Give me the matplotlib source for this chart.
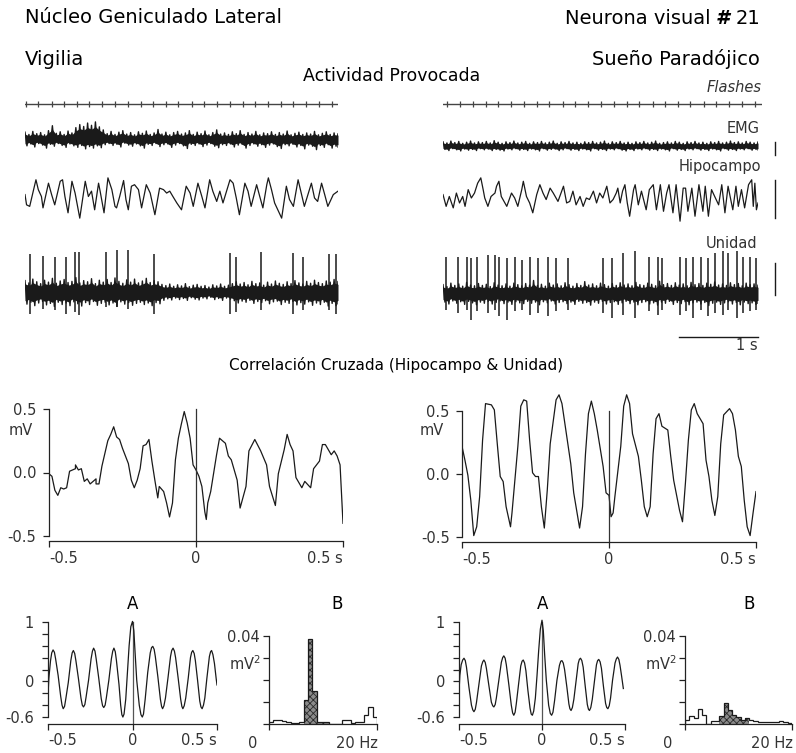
import numpy as np
import matplotlib
matplotlib.use("Agg")
import matplotlib.pyplot as plt

plt.rcParams['font.family'] = ['DejaVu Sans']
plt.rcParams['mathtext.fontset'] = 'dejavusans'
plt.rcParams['hatch.color'] = '#2a2a2a'
plt.rcParams['hatch.linewidth'] = 0.6

W, H = 796, 753

# ---------------- DATA ----------------
# flash times (s)
flash_left = [0.01, 0.17, 0.34, 0.50, 0.66, 0.82, 0.99, 1.15, 1.31, 1.48, 1.64, 1.80,
              1.96, 2.13, 2.29, 2.45, 2.62, 2.78, 2.94, 3.10, 3.27, 3.43, 3.59, 3.76, 3.92]
flash_right = [0.05, 0.21, 0.38, 0.54, 0.70, 0.86, 1.03, 1.19, 1.35, 1.52, 1.68, 1.84,
               2.00, 2.17, 2.33, 2.49, 2.66, 2.82, 2.98, 3.14, 3.31, 3.47, 3.63, 3.80, 3.96]

# noisy traces: positive / negative excursions every 50 ms (mV)
noise_t = np.linspace(0, 4, 81)
emg_w_up = [0.18, 0.12, 0.20, 0.14, 0.17, 0.11, 0.22, 0.35, 0.15, 0.19,
            0.12, 0.21, 0.16, 0.30, 0.38, 0.33, 0.42, 0.36, 0.45, 0.32,
            0.24, 0.14, 0.20, 0.12, 0.18, 0.22, 0.13, 0.17, 0.11, 0.19,
            0.15, 0.21, 0.12, 0.16, 0.25, 0.13, 0.18, 0.11, 0.17, 0.20,
            0.13, 0.16, 0.22, 0.12, 0.18, 0.14, 0.21, 0.11, 0.17, 0.24,
            0.13, 0.16, 0.12, 0.19, 0.14, 0.22, 0.12, 0.17, 0.13, 0.20,
            0.11, 0.16, 0.14, 0.19, 0.12, 0.17, 0.13, 0.21, 0.11, 0.15,
            0.18, 0.12, 0.16, 0.13, 0.20, 0.11, 0.15, 0.19, 0.12, 0.16,
            0.14]
emg_w_lo = [-0.18, -0.13, -0.21, -0.12, -0.16, -0.24, -0.14, -0.19, -0.12, -0.17,
            -0.22, -0.13, -0.18, -0.22, -0.17, -0.26, -0.20, -0.24, -0.18, -0.23,
            -0.15, -0.12, -0.17, -0.14, -0.21, -0.11, -0.16, -0.19, -0.13, -0.18,
            -0.24, -0.14, -0.17, -0.12, -0.20, -0.15, -0.13, -0.22, -0.16, -0.12,
            -0.18, -0.25, -0.14, -0.17, -0.13, -0.20, -0.16, -0.12, -0.19, -0.23,
            -0.15, -0.17, -0.13, -0.21, -0.16, -0.14, -0.24, -0.17, -0.13, -0.19,
            -0.15, -0.22, -0.16, -0.13, -0.20, -0.25, -0.15, -0.18, -0.14, -0.21,
            -0.17, -0.26, -0.16, -0.19, -0.28, -0.17, -0.22, -0.15, -0.24, -0.19,
            -0.21]
emg_s_up = [0.11, 0.08, 0.13, 0.09, 0.12, 0.07, 0.10, 0.13, 0.08, 0.11,
            0.09, 0.12, 0.08, 0.14, 0.10, 0.07, 0.11, 0.09, 0.13, 0.08,
            0.10, 0.12, 0.07, 0.11, 0.09, 0.12, 0.08, 0.10, 0.13, 0.07,
            0.11, 0.09, 0.12, 0.08, 0.10, 0.07, 0.11, 0.09, 0.12, 0.08,
            0.10, 0.13, 0.07, 0.11, 0.09, 0.12, 0.08, 0.10, 0.07, 0.11,
            0.09, 0.12, 0.08, 0.10, 0.13, 0.07, 0.09, 0.11, 0.08, 0.12,
            0.10, 0.07, 0.11, 0.09, 0.12, 0.08, 0.10, 0.07, 0.11, 0.09,
            0.12, 0.08, 0.10, 0.13, 0.09, 0.11, 0.08, 0.12, 0.10, 0.08,
            0.11]
emg_s_lo = [-0.09, -0.12, -0.07, -0.10, -0.13, -0.08, -0.11, -0.09, -0.12, -0.07,
            -0.10, -0.08, -0.12, -0.09, -0.11, -0.13, -0.08, -0.10, -0.07, -0.11,
            -0.09, -0.12, -0.08, -0.10, -0.13, -0.07, -0.11, -0.09, -0.08, -0.12,
            -0.10, -0.07, -0.11, -0.09, -0.12, -0.08, -0.10, -0.13, -0.07, -0.11,
            -0.09, -0.12, -0.08, -0.10, -0.07, -0.11, -0.13, -0.09, -0.12, -0.08,
            -0.10, -0.07, -0.11, -0.09, -0.12, -0.08, -0.10, -0.13, -0.07, -0.11,
            -0.09, -0.12, -0.08, -0.10, -0.07, -0.11, -0.09, -0.12, -0.08, -0.10,
            -0.13, -0.07, -0.11, -0.09, -0.12, -0.08, -0.10, -0.07, -0.11, -0.09,
            -0.10]
unit_w_up = [0.30, 0.24, 0.34, 0.27, 0.22, 0.31, 0.26, 0.36, 0.23, 0.29,
             0.33, 0.25, 0.28, 0.38, 0.24, 0.30, 0.27, 0.35, 0.22, 0.31,
             0.26, 0.33, 0.25, 0.37, 0.28, 0.23, 0.32, 0.26, 0.34, 0.24,
             0.29, 0.36, 0.25, 0.30, 0.27, 0.20, 0.17, 0.21, 0.15, 0.19,
             0.16, 0.22, 0.14, 0.18, 0.20, 0.15, 0.17, 0.13, 0.19, 0.16,
             0.21, 0.15, 0.18, 0.22, 0.27, 0.21, 0.25, 0.19, 0.28, 0.22,
             0.24, 0.18, 0.26, 0.21, 0.29, 0.23, 0.20, 0.27, 0.22, 0.30,
             0.24, 0.21, 0.28, 0.23, 0.31, 0.25, 0.22, 0.29, 0.26, 0.33,
             0.28]
unit_w_lo = [-0.32, -0.27, -0.36, -0.29, -0.25, -0.34, -0.30, -0.38, -0.27, -0.33,
             -0.29, -0.36, -0.26, -0.31, -0.37, -0.28, -0.33, -0.25, -0.35, -0.30,
             -0.27, -0.34, -0.29, -0.38, -0.26, -0.32, -0.28, -0.35, -0.30, -0.27,
             -0.33, -0.29, -0.36, -0.28, -0.31, -0.22, -0.18, -0.21, -0.16, -0.20,
             -0.17, -0.22, -0.15, -0.19, -0.21, -0.16, -0.18, -0.14, -0.20, -0.17,
             -0.22, -0.16, -0.19, -0.23, -0.29, -0.24, -0.27, -0.22, -0.30, -0.25,
             -0.28, -0.23, -0.31, -0.26, -0.24, -0.33, -0.27, -0.30, -0.25, -0.34,
             -0.28, -0.32, -0.26, -0.35, -0.29, -0.33, -0.27, -0.37, -0.30, -0.36,
             -0.31]
unit_s_up = [0.22, 0.17, 0.26, 0.20, 0.24, 0.18, 0.28, 0.21, 0.19, 0.25,
             0.20, 0.23, 0.17, 0.27, 0.21, 0.19, 0.24, 0.18, 0.26, 0.22,
             0.19, 0.25, 0.21, 0.33, 0.20, 0.23, 0.18, 0.26, 0.21, 0.24,
             0.19, 0.27, 0.22, 0.18, 0.25, 0.20, 0.30, 0.21, 0.24, 0.19,
             0.26, 0.22, 0.18, 0.25, 0.20, 0.27, 0.21, 0.24, 0.19, 0.28,
             0.22, 0.20, 0.26, 0.23, 0.19, 0.31, 0.22, 0.25, 0.20, 0.27,
             0.21, 0.24, 0.19, 0.28, 0.22, 0.25, 0.20, 0.26, 0.23, 0.29,
             0.21, 0.24, 0.20, 0.27, 0.22, 0.25, 0.19, 0.26, 0.22, 0.24,
             0.21]
unit_s_lo = [-0.24, -0.29, -0.21, -0.27, -0.23, -0.30, -0.22, -0.26, -0.31, -0.24,
             -0.27, -0.22, -0.29, -0.25, -0.21, -0.28, -0.24, -0.30, -0.23, -0.26,
             -0.28, -0.22, -0.27, -0.24, -0.31, -0.23, -0.26, -0.21, -0.29, -0.25,
             -0.23, -0.28, -0.24, -0.30, -0.22, -0.27, -0.25, -0.32, -0.24, -0.27,
             -0.22, -0.29, -0.25, -0.23, -0.30, -0.26, -0.22, -0.28, -0.24, -0.31,
             -0.25, -0.23, -0.29, -0.26, -0.32, -0.24, -0.27, -0.22, -0.30, -0.25,
             -0.28, -0.23, -0.31, -0.26, -0.24, -0.29, -0.25, -0.33, -0.27, -0.24,
             -0.30, -0.26, -0.23, -0.29, -0.25, -0.31, -0.24, -0.28, -0.26, -0.30,
             -0.27]

# Hippocampus traces (t s, mV)
hip_w_t = [0.00, 0.02, 0.06, 0.11, 0.14, 0.17, 0.21, 0.23, 0.30, 0.34, 0.38, 0.45, 0.48, 0.51,
           0.55, 0.60, 0.64, 0.70, 0.77, 0.81, 0.85, 0.89, 0.94, 0.96, 1.01, 1.06, 1.11, 1.15,
           1.17, 1.21, 1.26, 1.29, 1.32, 1.36, 1.40, 1.45, 1.49, 1.55, 1.60, 1.66, 1.72, 1.77,
           1.81, 1.85, 1.89, 1.94, 2.00, 2.06, 2.11, 2.15, 2.21, 2.26, 2.30, 2.36, 2.40, 2.45,
           2.49, 2.53, 2.62, 2.66, 2.70, 2.74, 2.81, 2.85, 2.89, 2.96, 3.00, 3.04, 3.09, 3.11,
           3.15, 3.19, 3.28, 3.34, 3.38, 3.43, 3.49, 3.53, 3.57, 3.66, 3.70, 3.74, 3.79, 3.83,
           3.87, 3.94, 4.00]
hip_w_v = [0.09, -0.18, -0.22, 0.22, 0.48, 0.22, 0.04, -0.26, 0.39, 0.09, -0.18, 0.44, 0.48, 0.04,
           -0.39, 0.44, 0.13, -0.53, 0.44, 0.04, 0.18, -0.31, 0.39, 0.18, -0.39, 0.53, 0.22, -0.22,
           -0.26, 0.04, 0.46, -0.04, -0.31, 0.31, 0.35, 0.22, -0.26, 0.35, 0.13, -0.44, 0.26, 0.22,
           0.13, 0.18, 0.04, -0.13, -0.31, 0.31, 0.13, -0.22, 0.39, 0.04, -0.26, 0.48, 0.18, -0.09,
           0.18, -0.13, 0.48, 0.39, 0.00, -0.44, 0.39, 0.18, -0.22, 0.35, 0.04, -0.26, 0.35, 0.53,
           0.22, -0.13, -0.53, 0.31, -0.04, -0.22, 0.48, 0.13, -0.22, 0.39, 0.00, -0.09, 0.39, 0.09,
           -0.22, 0.09, 0.18]
hip_s_t = [0.00, 0.04, 0.08, 0.13, 0.17, 0.21, 0.25, 0.28, 0.32, 0.36, 0.40, 0.44, 0.48, 0.51,
           0.53, 0.57, 0.61, 0.66, 0.68, 0.71, 0.74, 0.81, 0.87, 0.91, 0.95, 1.00, 1.02, 1.06,
           1.10, 1.14, 1.19, 1.23, 1.27, 1.31, 1.36, 1.40, 1.46, 1.53, 1.57, 1.61, 1.65, 1.69,
           1.74, 1.78, 1.82, 1.86, 1.91, 1.95, 1.99, 2.03, 2.08, 2.12, 2.16, 2.20, 2.22, 2.25,
           2.28, 2.31, 2.34, 2.37, 2.42, 2.44, 2.48, 2.52, 2.58, 2.62, 2.67, 2.71, 2.76, 2.80,
           2.84, 2.87, 2.92, 2.96, 3.01, 3.05, 3.08, 3.11, 3.16, 3.20, 3.25, 3.30, 3.33, 3.37,
           3.41, 3.45, 3.50, 3.54, 3.58, 3.62, 3.68, 3.72, 3.75, 3.79, 3.83, 3.88, 3.92, 3.94,
           3.96, 3.98, 4.00]
hip_s_v = [0.09, -0.22, 0.04, -0.26, 0.13, -0.13, 0.04, -0.22, 0.22, 0.00, 0.13, 0.39, 0.53, 0.22,
           0.00, -0.22, 0.04, 0.13, 0.31, 0.44, 0.04, -0.22, 0.13, 0.00, -0.22, 0.22, 0.44, 0.04,
           -0.13, -0.39, 0.09, 0.35, 0.13, -0.04, 0.26, 0.13, -0.09, 0.31, -0.13, -0.09, 0.18, -0.18,
           0.04, -0.22, 0.00, -0.04, 0.18, -0.13, 0.13, 0.00, 0.31, -0.13, -0.04, 0.13, 0.26, -0.13,
           0.18, 0.35, -0.13, -0.48, 0.22, 0.35, -0.18, 0.18, -0.31, 0.22, 0.35, -0.31, 0.35, -0.35,
           0.13, 0.35, -0.39, 0.35, -0.61, 0.26, 0.26, -0.35, 0.26, -0.48, 0.35, -0.35, 0.31, -0.48,
           0.22, 0.04, -0.18, 0.35, -0.39, 0.31, -0.31, 0.31, -0.22, 0.22, -0.26, 0.35, 0.48, -0.22,
           0.39, -0.31, -0.13]

# Unit spikes (t s, peak mV, trough mV)
spk_w_t = [0.06, 0.23, 0.38, 0.53, 0.64, 0.69, 1.04, 1.17, 1.31, 1.65, 2.62, 2.70, 3.02, 3.43,
           3.55, 3.88, 3.98]
spk_w_top = [1.01, 0.96, 0.92, 0.92, 1.05, 1.05, 1.05, 1.11, 1.10, 0.99, 1.03, 0.92, 1.05, 1.03,
             0.92, 0.99, 1.01]
spk_w_bot = [-0.57, -0.44, -0.48, -0.57, -0.53, -0.61, -0.39, -0.39, -0.44, -0.57, -0.59, -0.53,
             -0.48, -0.57, -0.48, -0.48, -0.57]
spk_s_t = [0.04, 0.19, 0.30, 0.36, 0.43, 0.57, 0.66, 0.71, 0.81, 0.91, 1.00, 1.11, 1.21, 1.33,
           1.44, 1.59, 2.03, 2.14, 2.29, 2.44, 2.61, 2.73, 2.78, 3.01, 3.09, 3.18, 3.28, 3.37,
           3.45, 3.55, 3.62, 3.73, 3.81, 3.90, 3.97]
spk_s_top = [0.96, 0.96, 0.96, 0.92, 0.96, 1.01, 1.01, 0.96, 0.92, 0.96, 0.88, 0.96, 0.92, 0.96,
             0.92, 0.92, 0.92, 0.92, 1.05, 1.10, 0.96, 0.96, 0.92, 0.96, 0.92, 0.96, 0.96, 0.92,
             1.05, 1.10, 1.05, 1.10, 0.96, 0.96, 0.92]
spk_s_bot = [-0.44, -0.53, -0.44, -0.70, -0.48, -0.53, -0.44, -0.61, -0.70, -0.48, -0.44, -0.57,
             -0.53, -0.61, -0.48, -0.44, -0.53, -0.66, -0.57, -0.66, -0.48, -0.57, -0.44, -0.57,
             -0.48, -0.66, -0.44, -0.61, -0.53, -0.57, -0.44, -0.66, -0.53, -0.48, -0.44]

# Cross-correlation (lag s, mV)
cc_w_t = [-0.50, -0.49, -0.48, -0.47, -0.46, -0.45, -0.44, -0.44, -0.43, -0.42, -0.41, -0.41,
          -0.40, -0.39, -0.38, -0.37, -0.36, -0.35, -0.34, -0.34, -0.33, -0.32, -0.30, -0.29,
          -0.28, -0.27, -0.26, -0.25, -0.23, -0.22, -0.21, -0.20, -0.19, -0.18, -0.17, -0.16,
          -0.15, -0.14, -0.13, -0.125, -0.11, -0.10, -0.09, -0.08, -0.07, -0.06, -0.05, -0.04,
          -0.03, -0.02, -0.01, 0.00, 0.01, 0.02, 0.03, 0.035, 0.04, 0.05, 0.07, 0.08, 0.10, 0.11,
          0.12, 0.14, 0.15, 0.17, 0.18, 0.20, 0.22, 0.24, 0.25, 0.27, 0.28, 0.30, 0.31, 0.32,
          0.33, 0.34, 0.36, 0.37, 0.39, 0.40, 0.42, 0.43, 0.44, 0.46, 0.47, 0.48, 0.49, 0.50]
cc_w_v = [-0.01, -0.03, -0.14, -0.18, -0.12, -0.13, -0.12, -0.12, 0.01, 0.02, 0.03, 0.06, 0.02,
          0.03, -0.07, -0.05, -0.09, -0.07, -0.05, -0.09, -0.09, 0.05, 0.25, 0.30, 0.36, 0.28,
          0.26, 0.19, 0.07, -0.06, -0.12, -0.06, 0.03, 0.21, 0.22, 0.26, 0.09, -0.06, -0.20,
          -0.11, -0.15, -0.24, -0.35, -0.24, 0.10, 0.27, 0.38, 0.48, 0.39, 0.27, 0.06, 0.02,
          -0.03, -0.11, -0.31, -0.37, -0.24, -0.15, 0.14, 0.27, 0.23, 0.13, 0.10, -0.06, -0.28,
          -0.11, 0.17, 0.26, 0.17, 0.06, -0.11, -0.26, -0.01, 0.18, 0.30, 0.22, 0.17, -0.04,
          -0.12, -0.07, -0.12, 0.03, 0.09, 0.22, 0.22, 0.14, 0.17, 0.13, 0.06, -0.40]
cc_s_t = [-0.50, -0.49, -0.48, -0.47, -0.46, -0.45, -0.44, -0.43, -0.42, -0.40, -0.39, -0.38,
          -0.37, -0.36, -0.35, -0.335, -0.33, -0.31, -0.30, -0.29, -0.28, -0.27, -0.26, -0.25,
          -0.24, -0.23, -0.22, -0.21, -0.20, -0.18, -0.17, -0.16, -0.14, -0.13, -0.12, -0.10,
          -0.09, -0.08, -0.07, -0.06, -0.05, -0.04, -0.02, -0.01, 0.00, 0.007, 0.014, 0.02, 0.04,
          0.05, 0.06, 0.07, 0.08, 0.10, 0.11, 0.12, 0.13, 0.14, 0.15, 0.16, 0.17, 0.18, 0.20,
          0.21, 0.22, 0.24, 0.25, 0.26, 0.27, 0.28, 0.29, 0.30, 0.32, 0.33, 0.34, 0.35, 0.36,
          0.37, 0.38, 0.39, 0.41, 0.42, 0.43, 0.44, 0.45, 0.46, 0.47, 0.48, 0.49, 0.50]
cc_s_v = [0.22, 0.11, -0.01, -0.21, -0.49, -0.42, -0.18, 0.27, 0.56, 0.55, 0.51, 0.24, -0.02,
          -0.06, -0.26, -0.42, -0.31, 0.22, 0.54, 0.59, 0.58, 0.27, 0.01, -0.02, -0.02, -0.26,
          -0.43, -0.13, 0.24, 0.59, 0.63, 0.56, 0.24, 0.08, -0.15, -0.43, -0.26, 0.16, 0.48,
          0.58, 0.48, 0.35, 0.06, -0.15, -0.17, -0.34, -0.31, -0.18, 0.22, 0.54, 0.63, 0.56,
          0.32, 0.14, -0.05, -0.26, -0.34, -0.26, 0.16, 0.44, 0.48, 0.38, 0.35, 0.14, -0.05,
          -0.29, -0.38, -0.07, 0.27, 0.51, 0.56, 0.48, 0.40, 0.11, -0.02, -0.21, -0.33, -0.18,
          0.24, 0.47, 0.52, 0.48, 0.35, 0.14, 0.06, -0.21, -0.42, -0.49, -0.31, -0.14]

# Autocorrelation A (lag s, normalised)
ac_w_t = [-0.50, -0.495, -0.485, -0.478, -0.47, -0.462, -0.455, -0.44, -0.425, -0.417, -0.41,
          -0.402, -0.395, -0.38, -0.365, -0.357, -0.35, -0.342, -0.335, -0.32, -0.305, -0.297,
          -0.29, -0.282, -0.275, -0.26, -0.245, -0.237, -0.23, -0.222, -0.215, -0.20, -0.185,
          -0.177, -0.17, -0.162, -0.155, -0.14, -0.125, -0.117, -0.11, -0.102, -0.095, -0.08,
          -0.07, -0.063, -0.057, -0.05, -0.04, -0.03, -0.02, -0.01, 0.00, 0.008, 0.015, 0.025,
          0.04, 0.05, 0.058, 0.065, 0.075, 0.09, 0.105, 0.113, 0.12, 0.128, 0.135, 0.15, 0.165,
          0.172, 0.178, 0.186, 0.195, 0.21, 0.225, 0.232, 0.24, 0.248, 0.255, 0.27, 0.285, 0.292,
          0.298, 0.306, 0.315, 0.33, 0.343, 0.35, 0.357, 0.365, 0.372, 0.385, 0.398, 0.405,
          0.412, 0.42, 0.428, 0.44, 0.455, 0.462, 0.468, 0.476, 0.485, 0.495, 0.50]
ac_w_v = [-0.23, 0.05, 0.35, 0.48, 0.53, 0.49, 0.38, 0.10, -0.25, -0.40, -0.46, -0.42, -0.30,
          -0.02, 0.35, 0.48, 0.52, 0.47, 0.35, 0.05, -0.28, -0.40, -0.43, -0.39, -0.27, 0.02,
          0.38, 0.51, 0.56, 0.51, 0.38, 0.06, -0.29, -0.41, -0.44, -0.40, -0.28, 0.02, 0.38,
          0.51, 0.56, 0.50, 0.35, -0.05, -0.40, -0.56, -0.60, -0.55, -0.30, 0.15, 0.60, 0.92,
          1.01, 0.85, 0.50, 0.02, -0.40, -0.56, -0.60, -0.55, -0.30, 0.15, 0.48, 0.57, 0.59,
          0.54, 0.42, 0.08, -0.30, -0.42, -0.46, -0.41, -0.28, 0.06, 0.42, 0.52, 0.56, 0.51,
          0.40, 0.06, -0.30, -0.42, -0.46, -0.41, -0.28, 0.06, 0.40, 0.49, 0.52, 0.47, 0.35,
          0.02, -0.33, -0.43, -0.46, -0.40, -0.28, 0.05, 0.42, 0.50, 0.52, 0.45, 0.30, 0.05,
          -0.06]
ac_s_t = [-0.50, -0.495, -0.487, -0.478, -0.47, -0.462, -0.455, -0.44, -0.425, -0.417, -0.41,
          -0.402, -0.395, -0.38, -0.365, -0.357, -0.35, -0.342, -0.335, -0.32, -0.305, -0.297,
          -0.29, -0.282, -0.275, -0.26, -0.245, -0.237, -0.23, -0.222, -0.215, -0.20, -0.185,
          -0.177, -0.17, -0.162, -0.155, -0.14, -0.128, -0.12, -0.113, -0.105, -0.097, -0.085,
          -0.072, -0.065, -0.058, -0.05, -0.04, -0.03, -0.02, -0.01, 0.00, 0.008, 0.016, 0.026,
          0.04, 0.05, 0.058, 0.066, 0.076, 0.09, 0.105, 0.113, 0.12, 0.128, 0.136, 0.15, 0.162,
          0.168, 0.175, 0.183, 0.192, 0.205, 0.218, 0.225, 0.232, 0.24, 0.248, 0.26, 0.273, 0.28,
          0.286, 0.294, 0.303, 0.315, 0.328, 0.335, 0.342, 0.35, 0.358, 0.37, 0.383, 0.39, 0.397,
          0.405, 0.413, 0.425, 0.44, 0.448, 0.455, 0.463, 0.47, 0.48, 0.49]
ac_s_v = [-0.18, 0.10, 0.28, 0.36, 0.39, 0.35, 0.24, -0.10, -0.40, -0.48, -0.51, -0.47, -0.36,
          -0.05, 0.26, 0.33, 0.36, 0.32, 0.22, -0.07, -0.35, -0.41, -0.43, -0.39, -0.28, 0.02,
          0.32, 0.40, 0.43, 0.39, 0.28, -0.05, -0.40, -0.53, -0.57, -0.52, -0.38, -0.02, 0.26,
          0.34, 0.36, 0.31, 0.18, -0.15, -0.45, -0.55, -0.57, -0.50, -0.28, 0.10, 0.52, 0.88,
          1.03, 0.85, 0.45, 0.02, -0.40, -0.54, -0.57, -0.52, -0.32, 0.02, 0.27, 0.34, 0.35,
          0.31, 0.20, -0.10, -0.38, -0.46, -0.49, -0.44, -0.30, 0.00, 0.30, 0.37, 0.39, 0.35,
          0.24, -0.07, -0.39, -0.47, -0.49, -0.44, -0.30, -0.02, 0.28, 0.35, 0.37, 0.33, 0.22,
          -0.08, -0.37, -0.44, -0.46, -0.41, -0.28, 0.02, 0.31, 0.38, 0.41, 0.37, 0.27, 0.08,
          -0.12]

# Power spectra B (Hz bins, mV^2)
freq_edges = np.linspace(0, 20, 26)
psd_w = [0.0010, 0.0020, 0.0020, 0.0015, 0.0008, 0.0005, 0.0006, 0.0009, 0.0109, 0.0385,
         0.0149, 0.0010, 0.0010, 0.0009, 0.0, 0.0, 0.0, 0.0020, 0.0018, 0.0005, 0.0008, 0.0010,
         0.0040, 0.0078, 0.0033]
psd_s = [0.0019, 0.0035, 0.0027, 0.0068, 0.0042, 0.0, 0.0012, 0.0014, 0.0035, 0.0094, 0.0062,
         0.0042, 0.0032, 0.0017, 0.0027, 0.0019, 0.0012, 0.0009, 0.0008, 0.0008, 0.0008, 0.0008,
         0.0012, 0.0008, 0.0005]
shade_w = (8, 14)
shade_s = (8, 15)

# ---------------- FIGURE ----------------
fig = plt.figure(figsize=(W / 100, H / 100), dpi=100)
fig.patch.set_facecolor('white')
renderer = fig.canvas.get_renderer()


def px_axes(x0, y0, x1, y1):
    return fig.add_axes([x0 / W, 1 - y1 / H, (x1 - x0) / W, (y1 - y0) / H])


def ftext(x, y, s, **kw):
    kw.setdefault('va', 'baseline')
    return fig.text(x / W, 1 - y / H, s, **kw)


INK = '#1a1a1a'
TXT = '#333333'
TS = 10.5

# headings
ftext(25, 23, 'Núcleo Geniculado Lateral', fontsize=14, color='black')
t21 = ftext(760, 24, '21', fontsize=14, color='black', ha='right')
x_21 = t21.get_window_extent(renderer).x0
thash = ftext(x_21 - 6, 24, '#', fontsize=14, color='black', ha='right',
              style='italic', weight='bold')
x_h = thash.get_window_extent(renderer).x0
ftext(x_h - 5, 24, 'Neurona visual', fontsize=14, color='black', ha='right')
ftext(25, 65, 'Vigilia', fontsize=14, color='black')
ftext(760, 65, 'Sueño Paradójico', fontsize=14, color='black', ha='right')
ftext(392, 81, 'Actividad Provocada', fontsize=12.5, color='black', ha='center')
ftext(762, 92, 'Flashes', fontsize=10.5, color=TXT, ha='right', style='italic')
ftext(760, 133, 'EMG', fontsize=TS, color=TXT, ha='right')
ftext(761, 171, 'Hipocampo', fontsize=TS, color=TXT, ha='right')
ftext(757, 248, 'Unidad', fontsize=TS, color=TXT, ha='right')
ftext(396, 370, 'Correlación Cruzada (Hipocampo & Unidad)', fontsize=11, color='black',
      ha='center')

# flash lines
for (x0, x1, xmax, fl) in [(25, 338, 4.0, flash_left), (443, 762, 4.05, flash_right)]:
    ax = px_axes(x0, 94, x1, 114)
    ax.set_xlim(0, xmax)
    ax.set_ylim(-1, 1)
    ax.axis('off')
    ax.plot([0, xmax], [0, 0], color='#444444', lw=1.0)
    ax.vlines(fl, -0.3, 0.3, color='#444444', lw=0.9)

PX_PER_MV = 38.0
YL = 1.3


def trace_axes(x0, x1, yc):
    half = YL * PX_PER_MV
    ax = px_axes(x0, yc - half, x1, yc + half)
    ax.set_xlim(0, 4)
    ax.set_ylim(-YL, YL)
    ax.axis('off')
    return ax


def noisy(ax, up, lo):
    up = np.asarray(up)
    lo = np.asarray(lo)
    ax.fill_between(noise_t, 0.72 * lo, 0.72 * up, color=INK, lw=0)
    tz = np.empty(2 * len(noise_t))
    vz = np.empty(2 * len(noise_t))
    tz[0::2] = noise_t
    tz[1::2] = np.minimum(noise_t + 0.025, 4.0)
    vz[0::2] = up
    vz[1::2] = lo
    ax.plot(tz, vz, color=INK, lw=1.0)


# Vigilia traces
a = trace_axes(25, 338, 139)
noisy(a, emg_w_up, emg_w_lo)
a = trace_axes(25, 338, 198)
a.plot(hip_w_t, hip_w_v, color=INK, lw=0.9)
a = trace_axes(25, 338, 292)
noisy(a, unit_w_up, unit_w_lo)
a.vlines(spk_w_t, spk_w_bot, spk_w_top, color=INK, lw=1.1)

# Sueno paradojico traces
a = trace_axes(443, 758, 146)
noisy(a, emg_s_up, emg_s_lo)
a.plot([4.22, 4.22], [-0.24, 0.10], color=INK, lw=1.0, clip_on=False)
a = trace_axes(443, 758, 198)
a.plot(hip_s_t, hip_s_v, color=INK, lw=0.9)
a.plot([4.22, 4.22], [-0.53, 0.47], color=INK, lw=1.0, clip_on=False)
a = trace_axes(443, 758, 293)
noisy(a, unit_s_up, unit_s_lo)
a.vlines(spk_s_t, spk_s_bot, spk_s_top, color=INK, lw=1.1)
a.plot([4.22, 4.22], [-0.05, 0.80], color=INK, lw=1.0, clip_on=False)
a.plot([3.0, 4.0], [-1.16, -1.16], color=INK, lw=1.0, clip_on=False)
ftext(758, 350, '1 s', fontsize=TS, color=TXT, ha='right')


def style(ax, xb, yb, ypad, xpad):
    for s in ['top', 'right']:
        ax.spines[s].set_visible(False)
    ax.spines['left'].set_bounds(*yb)
    ax.spines['bottom'].set_bounds(*xb)
    for s in ['left', 'bottom']:
        ax.spines[s].set_color('#222222')
        ax.spines[s].set_linewidth(0.9)
    ax.tick_params(direction='out', length=4, width=0.9, color='#222222', labelsize=TS,
                   labelcolor=TXT)
    ax.tick_params(axis='y', pad=ypad)
    ax.tick_params(axis='x', pad=xpad)
    ax.patch.set_alpha(0)


def align_x(ax):
    lb = ax.get_xticklabels()
    lb[0].set_ha('left')
    lb[-1].set_ha('right')


# cross-correlation panels
for (x0, x1, zero, ppu, t, v, mvx) in [(49, 343, 472.5, 127.0, cc_w_t, cc_w_v, 33),
                                       (462, 756, 474.0, 125.7, cc_s_t, cc_s_v, 444)]:
    ylo, yhi = -0.54, 0.72
    ax = px_axes(x0, zero - yhi * ppu, x1, zero - ylo * ppu)
    ax.set_xlim(-0.5, 0.5)
    ax.set_ylim(ylo, yhi)
    ax.plot(t, v, color=INK, lw=0.9)
    ax.plot([0, 0], [ylo, 0.5], color='#333333', lw=0.9)
    style(ax, (-0.5, 0.5), (-0.5, 0.5), 5.0, 3.5)
    ax.set_yticks([-0.5, 0.0, 0.5])
    ax.set_yticklabels(['-0.5', '0.0', '0.5'])
    ax.set_xticks([-0.5, 0, 0.5])
    ax.set_xticklabels(['-0.5', '0', '0.5 s'])
    align_x(ax)
    ftext(mvx, 435, 'mV', fontsize=TS, color=TXT, ha='right')

# autocorrelation panels A
for (x0, x1, t, v, cx) in [(48, 217, ac_w_t, ac_w_v, 133), (459, 625, ac_s_t, ac_s_v, 543)]:
    ppu = 59.4
    zero = 681.4
    ylo, yhi = -0.72, 1.06
    ax = px_axes(x0, zero - yhi * ppu, x1, zero - ylo * ppu)
    ax.set_xlim(-0.5, 0.5)
    ax.set_ylim(ylo, yhi)
    ax.plot([0, 0], [ylo, 1.0], color='#555555', lw=0.9)
    ax.plot(t, v, color=INK, lw=0.9)
    style(ax, (-0.5, 0.5), (-0.6, 1.0), 6.0, 2.5)
    ax.set_yticks([-0.6, -0.4, -0.2, 0, 0.2, 0.4, 0.6, 0.8, 1.0])
    ax.set_yticklabels(['-0.6', '', '', '0', '', '', '', '', '1'])
    ax.set_xticks([-0.5, 0, 0.5])
    ax.set_xticklabels(['-0.5', '0', '0.5 s'])
    align_x(ax)
    ftext(cx, 609, 'A', fontsize=12, color='black', ha='center')

# spectra B
for (x0, x1, psd, sh, cx, zx) in [(269, 377, psd_w, shade_w, 337, 253),
                                  (685, 792, psd_s, shade_s, 749, 668)]:
    ppu = 2200.0
    base = 724
    ax = px_axes(x0, base - 0.046 * ppu, x1, base)
    ax.set_xlim(0, 20)
    ax.set_ylim(0, 0.046)
    i0, i1 = sh
    ax.stairs(psd[i0:i1], freq_edges[i0:i1 + 1], fill=True, facecolor='#8a8a8a',
              edgecolor='#2a2a2a', hatch='xxxxx', lw=0.0)
    ax.stairs(psd, freq_edges, color=INK, lw=0.9, baseline=0)
    style(ax, (0, 20), (0, 0.04), 3.0, 3.0)
    ax.set_yticks([0, 0.01, 0.02, 0.03, 0.04])
    ax.set_yticklabels(['', '', '', '', '0.04'])
    ax.set_xticks([0, 20])
    ax.set_xticklabels(['', ''])
    ftext(x0 - 8, 670, 'mV$^2$', fontsize=TS, color=TXT, ha='right')
    ftext(zx, 748, '0', fontsize=TS, color=TXT, ha='center')
    ftext(x1 + 1, 748, '20 Hz', fontsize=TS, color=TXT, ha='right')
    ftext(cx, 609, 'B', fontsize=12, color='black', ha='center')

fig.savefig('out.png', dpi=100, facecolor='white')
